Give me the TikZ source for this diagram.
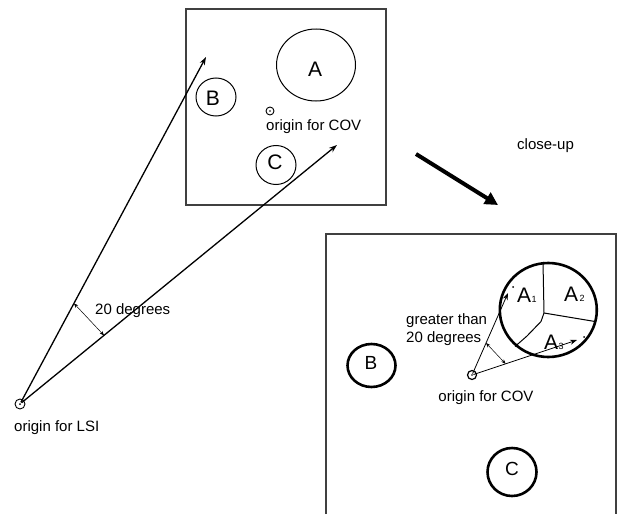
\documentclass[tikz,border=0pt]{standalone}
\usepackage{fontspec}
\setmainfont{Liberation Sans}
\usetikzlibrary{arrows.meta,shapes.geometric,calc}
\begin{document}
\begin{tikzpicture}[x=1pt,y=-1pt,
  lbl/.style={font=\fontsize{15}{18}\selectfont, inner sep=0pt},
  biglbl/.style={font=\fontsize{21}{21}\selectfont, inner sep=0pt},
  midlbl/.style={font=\fontsize{19}{19}\selectfont, inner sep=0pt},
  ring/.style={draw, ellipse, inner sep=0pt, line width=1pt},
  ringbold/.style={draw, ellipse, inner sep=0pt, line width=2.6pt},
  org/.style={draw, circle, inner sep=0pt, line width=0.9pt},
  dotn/.style={fill, circle, inner sep=0pt, minimum size=2pt},
  frame/.style={draw=black!75, line width=1.2pt},
  ray/.style={line width=1.3pt, -{Stealth[length=8pt,width=5.5pt]}},
  angmark/.style={line width=0.5pt, {Stealth[length=4.5pt,width=3.5pt]}-{Stealth[length=4.5pt,width=3.5pt]}},
  bigarrow/.style={line width=4pt, -{Triangle[length=13pt,width=13pt]}}]
\useasboundingbox (0,0) rectangle (618,514);

% ---------- top box ----------
\draw[frame] (186,9) rectangle (386,205);
\node[ring, minimum width=79pt, minimum height=72pt] (cA) at (316,65) {};
\node[biglbl] (lA) at (315,69) {A};
\node[ring, minimum width=40pt, minimum height=38pt] (cB) at (216,97) {};
\node[biglbl] (lB) at (213,98) {B};
\node[ring, minimum width=40pt, minimum height=39pt] (cC) at (276,165) {};
\node[biglbl] (lC) at (275,162) {C};
\node[org, minimum size=8pt] (o1) at (270,111) {};
\node[dotn, minimum size=1.6pt] (o1d) at (o1.center) {};
\node[lbl, anchor=west] (t1txt) at (266,126.5) {origin for COV};

% ---------- LSI origin and rays ----------
\node[org, minimum size=10pt] (lsi) at (20,404) {};
\node[dotn] (lsid) at (lsi.center) {};
\node[lbl, anchor=west] (lsitxt) at (14,428) {origin for LSI};
\coordinate (r1) at (206,57);
\coordinate (r2) at (337,145);
\draw[ray, shorten <=2pt] (lsi.center) -- (r1);
\draw[ray, shorten <=2pt] (lsi.center) -- (r2);
\coordinate (m1) at ($(lsi.center)!0.29!(r1)$);
\coordinate (m2) at ($(lsi.center)!0.265!(r2)$);
\draw[angmark] (m1) -- (m2);
\node[lbl, anchor=west] (deg) at (95,311) {20 degrees};

% ---------- close-up arrow ----------
\coordinate (ba) at (416,154);
\coordinate (bb) at (498,205);
\draw[bigarrow] (ba) -- (bb);
\node[lbl, anchor=west] (cu) at (517,146) {close-up};

% ---------- bottom box ----------
\draw[frame] (326,514) -- (326,234) -- (616,234) -- (616,514);
\node[ringbold, minimum width=48pt, minimum height=43pt] (bB) at (371.5,365.5) {};
\node[midlbl] (bBl) at (371,363) {B};
\node[ringbold, minimum width=49pt, minimum height=48pt] (bC) at (512,472) {};
\node[midlbl] (bCl) at (512,469) {C};
\node[ringbold, minimum width=97pt, minimum height=94pt] (bA) at (548.3,310) {};
\draw[line width=1pt] (543,262) -- (544,313) -- (595,321.5);
\draw[line width=1pt] (544,313) -- (541,321.5) -- (527,336) -- (515,346.5);
\node[biglbl, anchor=base west] (a1) at (517,302) {A\kern0.5pt{\fontsize{9}{9}\selectfont 1}};
\node[biglbl, anchor=base west] (a2) at (564,301) {A\kern1.5pt{\fontsize{9}{9}\selectfont 2}};
\node[biglbl, anchor=base west] (a3) at (544,349) {A\kern0.5pt{\fontsize{9}{9}\selectfont 3}};
\node[dotn] (d1) at (513,287) {};
\node[dotn] (d2) at (584,337) {};

\node[org, minimum size=9pt, line width=1.2pt] (o2) at (472,375) {};
\node[dotn, minimum size=1.6pt] (o2d) at (o2.center) {};
\node[lbl] (o2txt) at (486,398) {origin for COV};
\coordinate (u1) at (508,293);
\coordinate (u2) at (577,340);
\draw[line width=0.8pt, -{Stealth[length=7pt,width=5pt]}, shorten <=1.5pt] (o2.center) -- (u1);
\draw[line width=0.8pt, -{Stealth[length=7pt,width=5pt]}, shorten <=1.5pt] (o2.center) -- (u2);
\coordinate (n1) at ($(o2.center)!0.39!(u1)$);
\coordinate (n2) at ($(o2.center)!0.32!(u2)$);
\draw[angmark] (n1) -- (n2);
\node[lbl, anchor=west, align=left] (gt) at (406,330) {greater than\\20 degrees};
\end{tikzpicture}
\end{document}
